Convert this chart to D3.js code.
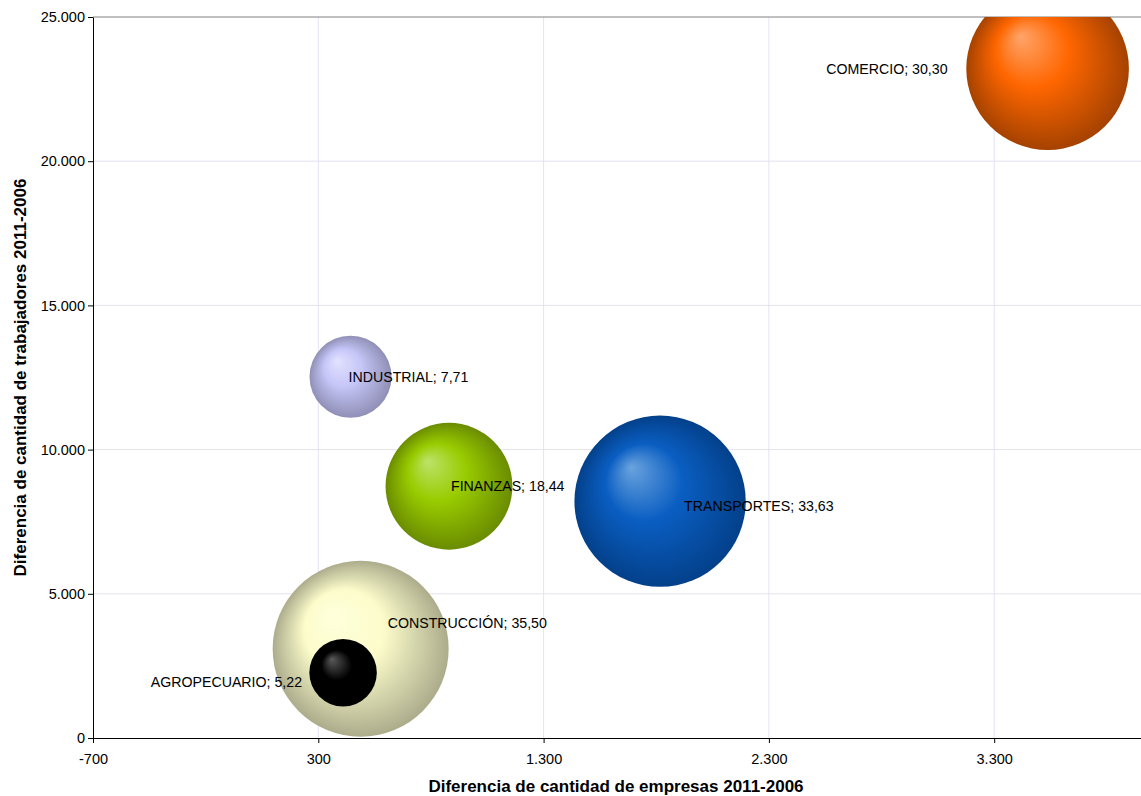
<!DOCTYPE html>
<html>
<head>
<meta charset="utf-8">
<script src="https://cdn.jsdelivr.net/npm/d3@7"></script>
<style>
  body { margin: 0; background: #fff; }
  svg { display: block; }
</style>
</head>
<body>
<script>
// sector data
const sectors = ["COMERCIO", "INDUSTRIAL", "FINANZAS", "TRANSPORTES", "CONSTRUCCIÓN", "AGROPECUARIO"];
const empresas = [3537, 443, 880, 1817, 488, 410];
const trabajadores = [23207, 12526, 8730, 8210, 3096, 2264];
const sizes = [30.30, 7.71, 18.44, 33.63, 35.50, 5.22];

const xTicks = [-700, 300, 1300, 2300, 3300];
const yTicks = [0, 5000, 10000, 15000, 20000, 25000];

// colours: highlight, body, edge
const colors = [
    ["#ffa56b", "#ff6600", "#a54200"],
    ["#e2e2ff", "#c6c6f8", "#8f8fb6"],
    ["#bde26a", "#99cc00", "#6a8c00"],
    ["#6aa3de", "#0a5ec2", "#03408a"],
    ["#ffffdc", "#fcfccb", "#acac8c"],
    ["#5a5a5a", "#000000", "#000000"]
];
// label placement relative to bubble centre
const labelDx = [-100, -2, 2, 24, 27, -41];
const labelDy = [0, 0, 0, 5, -26, 9];
const labelAnchor = ["end", "start", "start", "start", "start", "end"];

const W = 1141, H = 796;
const margin = {left: 93, top: 17, bottom: 58};
const font = "'Liberation Sans', Arial, sans-serif";

const x = d3.scaleLinear().domain([-700, 4300]).range([margin.left, margin.left + 5000 * 0.2253]);
const y = d3.scaleLinear().domain([0, 25000]).range([H - margin.bottom, margin.top]);
const r = d3.scaleSqrt().domain([0, d3.max(sizes)]).range([0, 88]);

const fmtBase = d3.formatLocale({decimal: ",", thousands: ".", grouping: [3], currency: ["", ""], minus: "-"}).format(",d");
const fmt = d => fmtBase(d);

const svg = d3.select("body").append("svg")
    .attr("width", W).attr("height", H)
    .style("font-family", font);

const defs = svg.append("defs");
defs.append("clipPath").attr("id", "plot")
  .append("rect")
    .attr("x", x.range()[0]).attr("y", y(25000))
    .attr("width", x.range()[1] - x.range()[0]).attr("height", y(0) - y(25000));

colors.forEach((c, i) => {
    const g = defs.append("radialGradient").attr("id", "g" + i)
        .attr("cx", "50%").attr("cy", "50%").attr("r", "50%")
        .attr("fx", "33%").attr("fy", "30%");
    g.append("stop").attr("offset", "0%").attr("stop-color", c[0]);
    g.append("stop").attr("offset", "45%").attr("stop-color", c[1]);
    g.append("stop").attr("offset", "100%").attr("stop-color", c[2]);
});

// grid
svg.append("g").selectAll("line").data(yTicks.slice(1, -1)).enter().append("line")
    .attr("x1", x.range()[0]).attr("x2", x.range()[1])
    .attr("y1", d => y(d)).attr("y2", d => y(d))
    .attr("stroke", "#e3e3ee");
svg.append("g").selectAll("line").data(xTicks.slice(1)).enter().append("line")
    .attr("x1", d => x(d)).attr("x2", d => x(d))
    .attr("y1", y(0)).attr("y2", y(25000))
    .attr("stroke", "#e3e3f6");
// top border
svg.append("line")
    .attr("x1", x.range()[0]).attr("x2", x.range()[1])
    .attr("y1", y(25000)).attr("y2", y(25000))
    .attr("stroke", "#808080");

// bubbles
const idx = d3.range(sectors.length);
svg.append("g").attr("clip-path", "url(#plot)")
  .selectAll("circle").data(idx).enter().append("circle")
    .attr("cx", i => x(empresas[i]))
    .attr("cy", i => y(trabajadores[i]))
    .attr("r", i => r(sizes[i]))
    .attr("fill", i => `url(#g${i})`);

// labels
svg.append("g").selectAll("text").data(idx).enter().append("text")
    .attr("x", i => x(empresas[i]) + labelDx[i])
    .attr("y", i => y(trabajadores[i]) + labelDy[i])
    .attr("dy", "0.35em")
    .attr("text-anchor", i => labelAnchor[i])
    .attr("font-size", 14.2)
    .attr("fill", "#000")
    .text(i => `${sectors[i]}; ${d3.format(".2f")(sizes[i]).replace(".", ",")}`);

// axes
const xAxis = d3.axisBottom(x).tickValues(xTicks).tickFormat(fmt).tickSize(5).tickSizeOuter(0);
const yAxis = d3.axisLeft(y).tickValues(yTicks).tickFormat(fmt).tickSize(5).tickSizeOuter(0);

const gx = svg.append("g").attr("transform", `translate(0,${y(0)})`).call(xAxis);
gx.attr("font-family", font);
gx.select(".domain").attr("stroke", "#000");
gx.selectAll("text").attr("font-size", 14.5).attr("dy", "18px");

const gy = svg.append("g").attr("transform", `translate(${margin.left},0)`).call(yAxis);
gy.attr("font-family", font);
gy.select(".domain").attr("stroke", "#000");
gy.selectAll("text").attr("font-size", 14.5);

// titles
svg.append("text")
    .attr("x", 616).attr("y", 792)
    .attr("text-anchor", "middle")
    .attr("font-size", 17).attr("font-weight", "bold")
    .text("Diferencia de cantidad de empresas 2011-2006");

svg.append("text")
    .attr("transform", `translate(26,${(y(0) + y(25000)) / 2}) rotate(-90)`)
    .attr("text-anchor", "middle")
    .attr("font-size", 17).attr("font-weight", "bold")
    .text("Diferencia de cantidad de trabajadores 2011-2006");
</script>
</body>
</html>
